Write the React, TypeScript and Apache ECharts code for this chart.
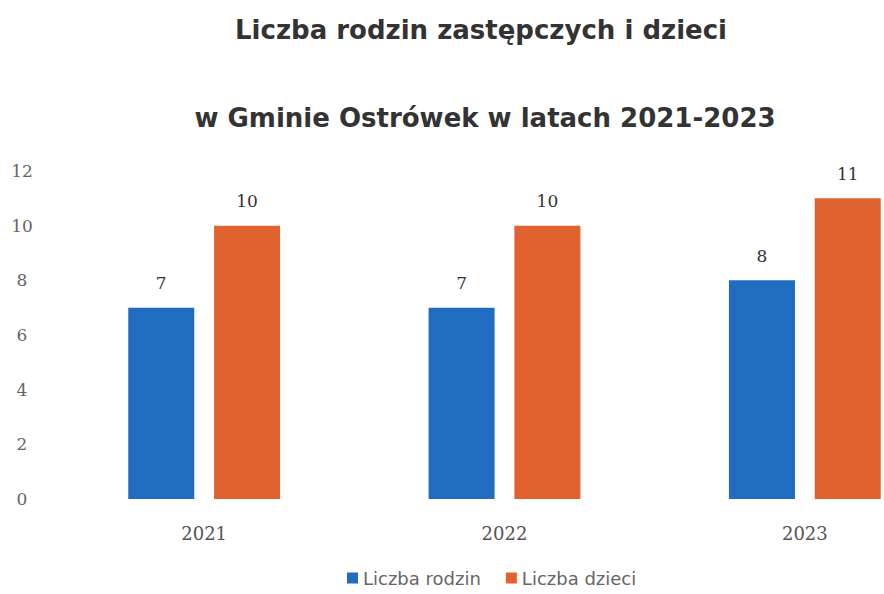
import React, { useEffect, useRef } from "react";
import * as echarts from "echarts";

const categories = ["2021", "2022", "2023"];
const rodziny = [7, 7, 8];
const dzieci = [10, 10, 11];
const seriesNames = ["Liczba rodzin", "Liczba dzieci"];
const titleLines = ["Liczba rodzin zastępczych i dzieci", "w Gminie Ostrówek w latach 2021-2023"];

export default function App() {
  const ref = useRef<HTMLDivElement>(null);
  useEffect(() => {
    const chart = echarts.init(ref.current!, null, { renderer: "svg" });
    const labelStyle = {
      show: true,
      position: "top",
      distance: 16,
      fontFamily: "DejaVu Serif",
      fontSize: 17,
      color: "#333",
    };
    const titleStyle = { fontFamily: "DejaVu Sans", fontWeight: "bold", fontSize: 26, color: "#333" };
    chart.setOption({
      animation: false,
      backgroundColor: "#ffffff",
      title: [
        { text: titleLines[0], left: 476, top: 12, textAlign: "center", textStyle: titleStyle },
        { text: titleLines[1], left: 480, top: 100, textAlign: "center", textStyle: titleStyle },
      ],
      legend: {
        bottom: 2,
        left: 342,
        itemWidth: 11,
        itemHeight: 11,
        itemGap: 25,
        icon: "rect",
        textStyle: { fontFamily: "DejaVu Sans", fontSize: 18, color: "#666" },
        data: seriesNames,
      },
      grid: { left: 54, top: 171, right: 0, height: 328 },
      xAxis: {
        type: "category",
        data: categories,
        axisLine: { show: false },
        axisTick: { show: false },
        axisLabel: { margin: 25, fontFamily: "DejaVu Serif", fontSize: 18, color: "#555" },
      },
      yAxis: {
        type: "value",
        min: 0,
        max: 12,
        interval: 2,
        splitLine: { show: false },
        axisLabel: { align: "center", margin: 32, fontFamily: "DejaVu Serif", fontSize: 17, color: "#666" },
      },
      series: [
        {
          name: seriesNames[0],
          type: "bar",
          data: rodziny,
          barWidth: 66,
          barGap: "30%",
          itemStyle: { color: "#1f6cc0" },
          label: labelStyle,
        },
        {
          name: seriesNames[1],
          type: "bar",
          data: dzieci,
          barWidth: 66,
          itemStyle: { color: "#e0622f" },
          label: labelStyle,
        },
      ],
    });
    return () => chart.dispose();
  }, []);
  return (
    <div style={{ width: 884, height: 594, position: "absolute", left: 0, top: 0, overflow: "hidden", background: "#fff" }}>
      <div ref={ref} style={{ width: 955, height: 594 }} />
    </div>
  );
}
